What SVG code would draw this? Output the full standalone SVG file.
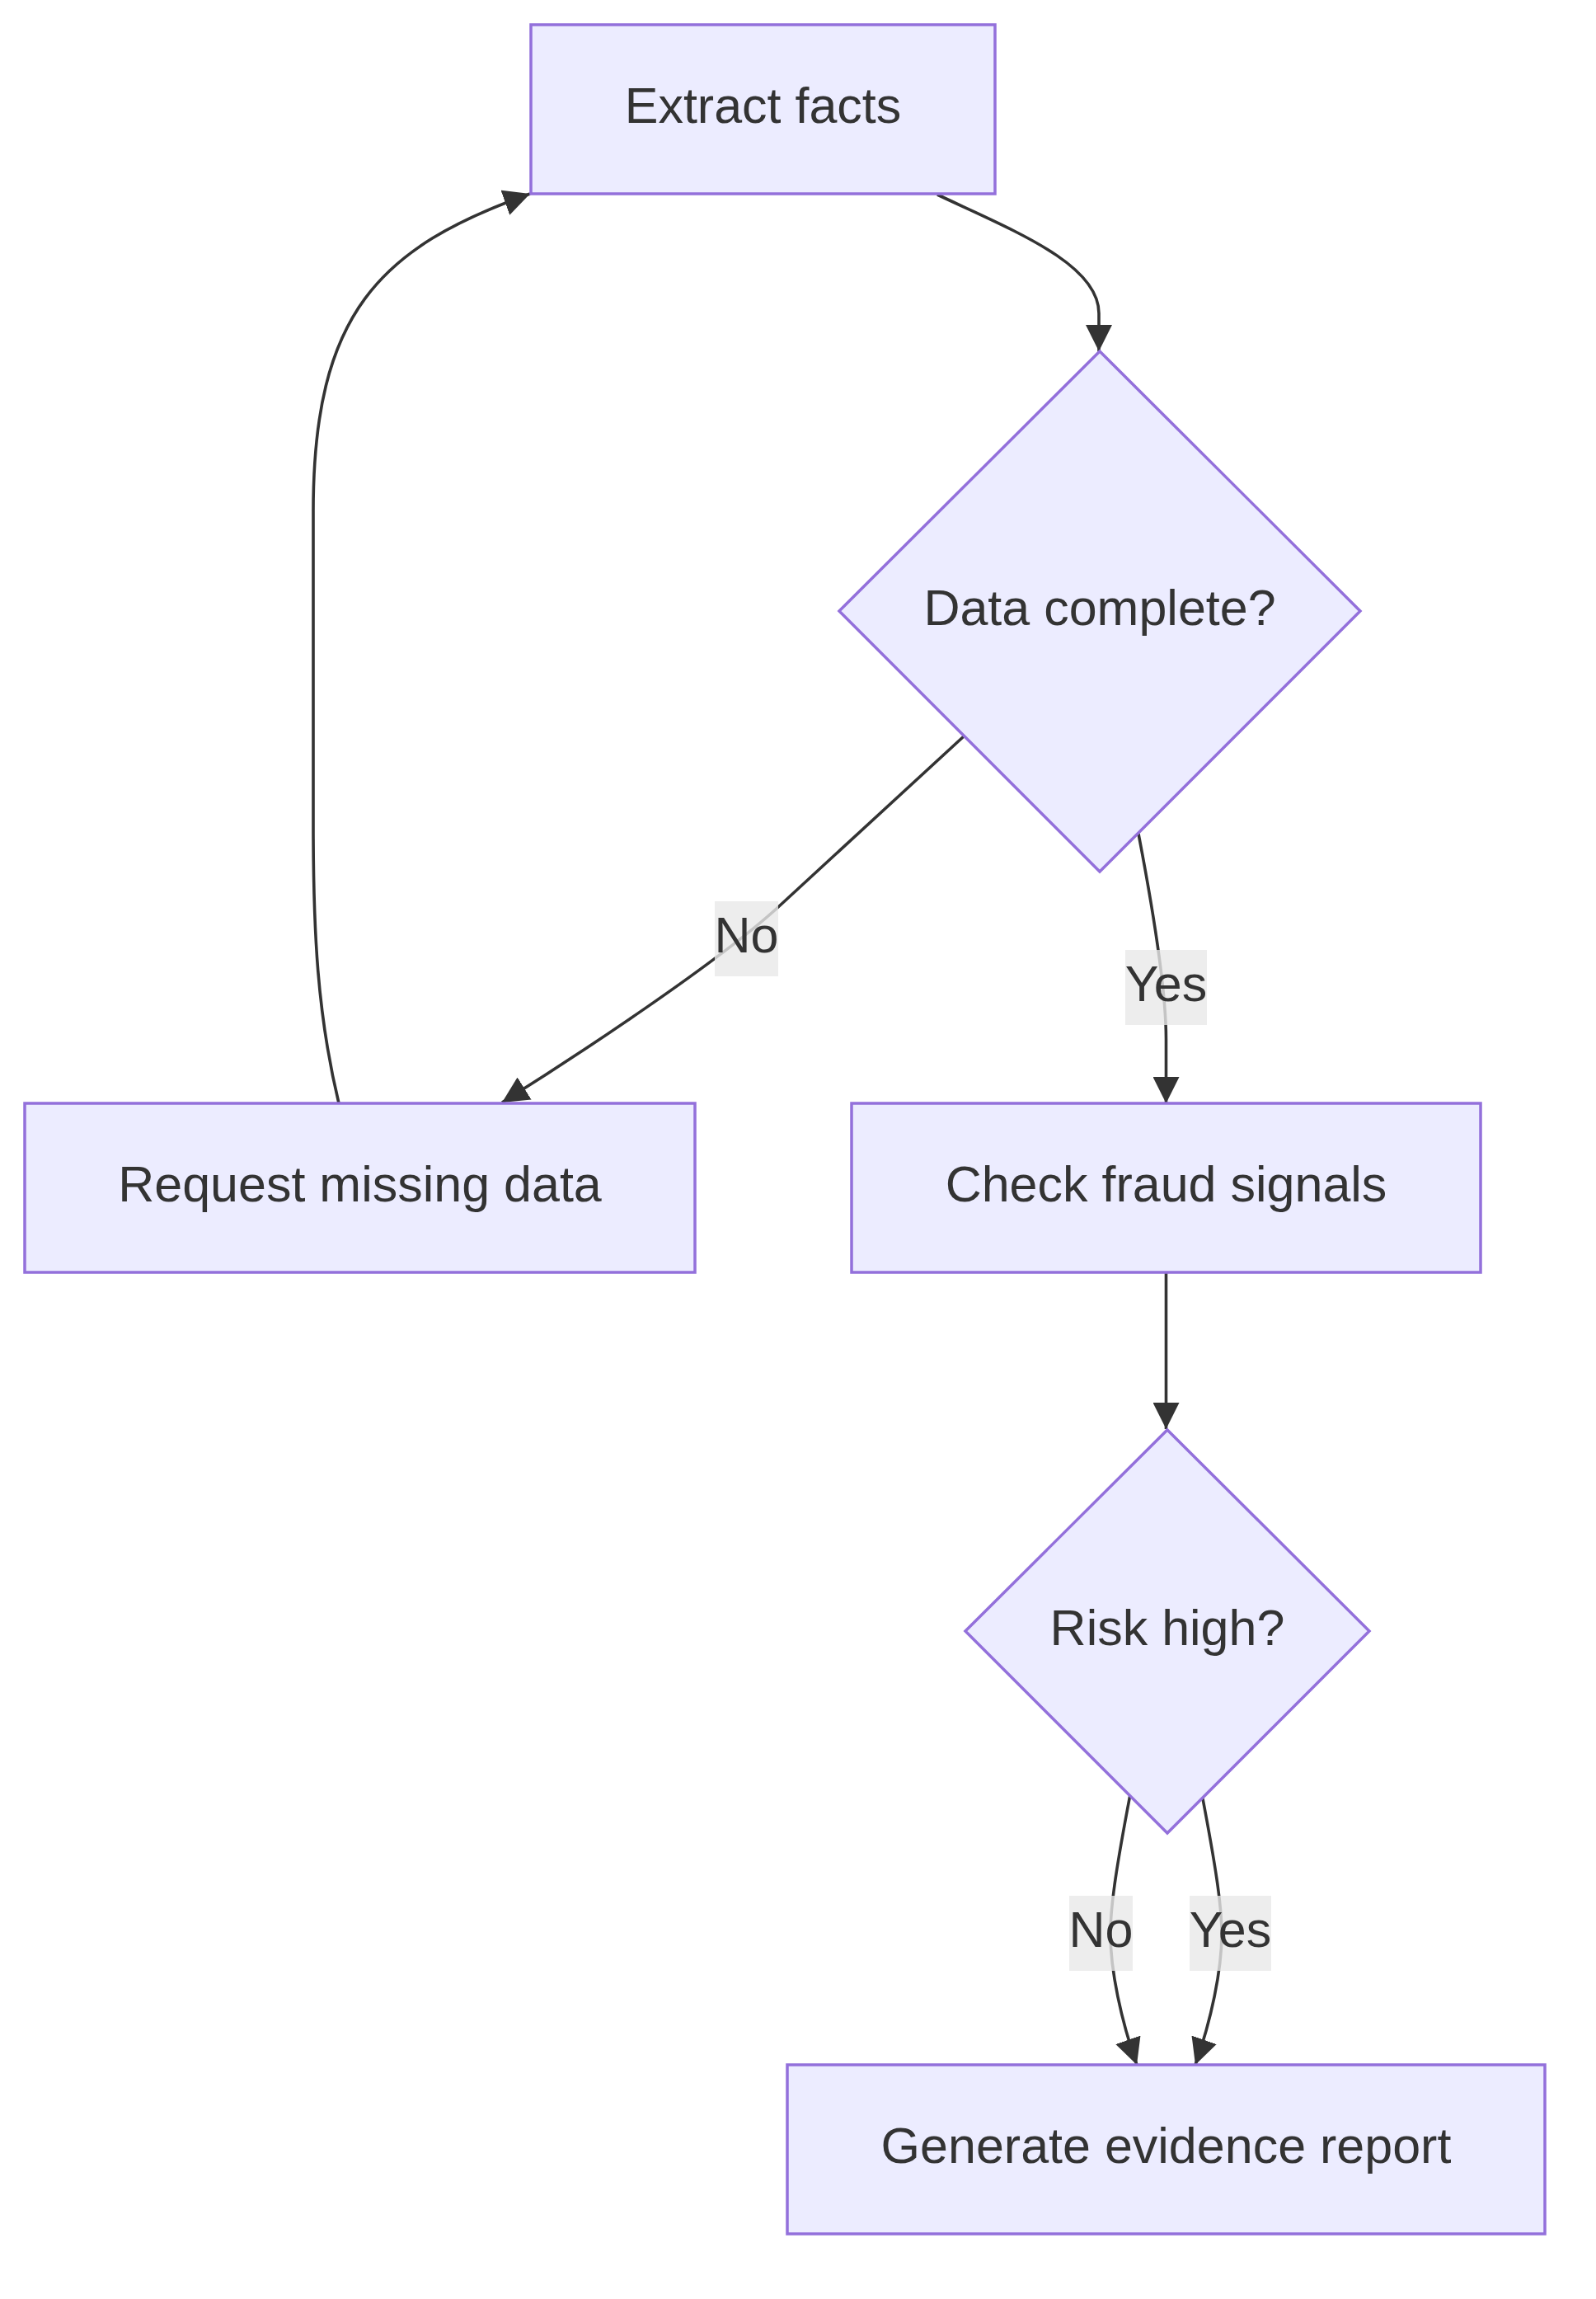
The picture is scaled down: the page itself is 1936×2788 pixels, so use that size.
<svg xmlns="http://www.w3.org/2000/svg" width="1936" height="2788" viewBox="0 0 1936 2788">
<defs>
<marker id="arrow" viewBox="0 0 10 10" refX="10" refY="5" markerWidth="32" markerHeight="32" markerUnits="userSpaceOnUse" orient="auto"><path d="M0,0 L10,5 L0,10 z" fill="#333333"/></marker>
</defs>
<style>
.node rect,.node polygon{fill:#ECECFF;stroke:#9370DB;stroke-width:3.5}
text{font-family:"Liberation Sans",Arial,sans-serif;font-size:61px;fill:#333333;text-anchor:middle}
.edge{fill:none;stroke:#333333;stroke-width:3.6;marker-end:url(#arrow)}
.elabel rect{fill:#e8e8e8;fill-opacity:0.8}
</style>
<rect width="1936" height="2788" fill="#ffffff"/>
<g id="connectors">
<path class="edge" d="M1137,236 C1230,280 1333,320 1333,380 L1333,426"/>
<path class="edge" d="M1169,893 L944,1100 C870,1168 700,1280 609,1337"/>
<path class="edge" d="M1381,1011 C1400,1110 1414.5,1200 1414.5,1260 L1414.5,1338"/>
<path class="edge" d="M411,1338 C385,1230 380,1130 380,1000 L380,620 C380,380 460,300 643,235"/>
<path class="edge" d="M1414.5,1543 L1414.5,1733"/>
<path class="edge" d="M1371,2176 C1355,2260 1347,2310 1347,2345 C1347,2390 1360,2450 1379,2504"/>
<path class="edge" d="M1458,2176 C1474,2260 1482,2310 1482,2345 C1482,2390 1469,2450 1450,2504"/>
</g>
<g id="edge-labels">
<g class="elabel" id="label-no-1"><rect x="867" y="1093" width="77" height="91"/><text x="905.5" y="1155">No</text></g>
<g class="elabel" id="label-yes-1"><rect x="1365" y="1152" width="99" height="91"/><text x="1414.5" y="1214">Yes</text></g>
<g class="elabel" id="label-no-2"><rect x="1297" y="2299" width="77" height="91"/><text x="1335.5" y="2361">No</text></g>
<g class="elabel" id="label-yes-2"><rect x="1443" y="2299" width="99" height="91"/><text x="1492.5" y="2361">Yes</text></g>
</g>
<g class="node" id="extract-facts"><rect x="644" y="30" width="563" height="205"/><text x="925.5" y="149">Extract facts</text></g>
<g class="node" id="data-complete"><polygon points="1334,426 1650,741 1334,1057 1018,741"/><text x="1334" y="757.5">Data complete?</text></g>
<g class="node" id="request-missing-data"><rect x="30" y="1338" width="813" height="205"/><text x="436.5" y="1457">Request missing data</text></g>
<g class="node" id="check-fraud-signals"><rect x="1033" y="1338" width="763" height="205"/><text x="1414.5" y="1457">Check fraud signals</text></g>
<g class="node" id="risk-high"><polygon points="1416,1734 1661,1978 1416,2223 1171,1978"/><text x="1416" y="1994.5">Risk high?</text></g>
<g class="node" id="generate-evidence-report"><rect x="955" y="2504" width="919" height="205"/><text x="1414.5" y="2623">Generate evidence report</text></g>
</svg>
